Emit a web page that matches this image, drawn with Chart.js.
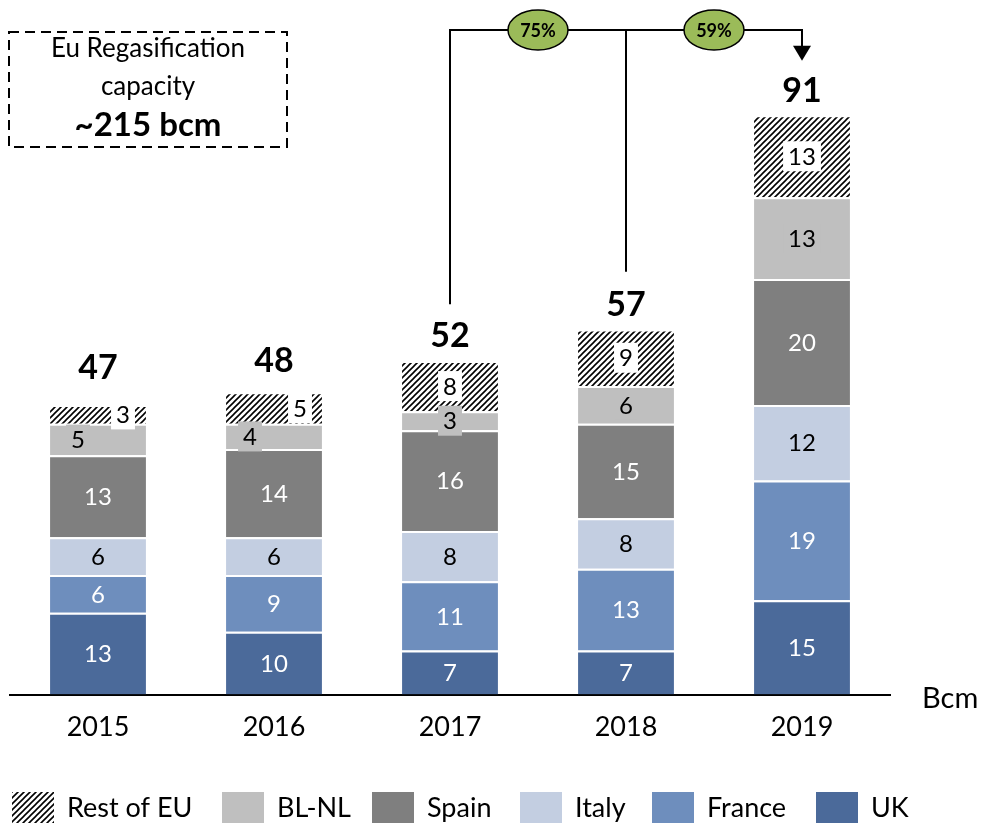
<!DOCTYPE html>
<html lang="en">
<head>
    <meta charset="UTF-8">
    <title>EU LNG imports by country</title>
    <script src="https://cdn.jsdelivr.net/npm/chart.js"></script>
    <style>
        body {
            margin: 0;
            background: #ffffff;
            overflow: hidden;
        }
        #chart {
            display: block;
        }
    </style>
</head>
<body>
    <canvas id="chart" width="987" height="826"></canvas>

    <script>
        // values (bcm)
        const years = ["2015", "2016", "2017", "2018", "2019"];
        const ukValues = [13, 10, 7, 7, 15];
        const franceValues = [6, 9, 11, 13, 19];
        const italyValues = [6, 6, 8, 8, 12];
        const spainValues = [13, 14, 16, 15, 20];
        const blnlValues = [5, 4, 3, 6, 13];
        const restValues = [3, 5, 8, 9, 13];
        const totals = [47, 48, 52, 57, 91];
        const growthLabels = ["75%", "59%"];
        const capacityLines = ["Eu Regasification", "capacity"];
        const capacityValue = "~215 bcm";
        const unitLabel = "Bcm";

        const FONT = "Lato, 'Open Sans', sans-serif";

        // diagonal hatch used for "Rest of EU"
        function makeHatch() {
            const c = document.createElement("canvas");
            c.width = 6;
            c.height = 6;
            const g = c.getContext("2d");
            g.fillStyle = "#ffffff";
            g.fillRect(0, 0, 6, 6);
            g.strokeStyle = "#000000";
            g.lineWidth = 1.6;
            g.beginPath();
            g.moveTo(0, 6); g.lineTo(6, 0);
            g.moveTo(-1, 1); g.lineTo(1, -1);
            g.moveTo(5, 7); g.lineTo(7, 5);
            g.stroke();
            return g.createPattern(c, "repeat");
        }
        const hatch = makeHatch();

        // small segments get their label nudged sideways (dataset index -> px per bar)
        const labelShift = { 4: [-20, -24, 0, 0, 0], 5: [25, 26, 0, 0, 0] };
        // legend swatch left edges, drawn right to left through the datasets
        const legendX = [12, 222, 372, 520, 652, 816];

        function series(label, data, color, textColor, boxColor) {
            return {
                label: label,
                data: data,
                backgroundColor: color,
                borderColor: "#ffffff",
                borderWidth: { top: 2, bottom: 0, left: 0, right: 0 },
                borderSkipped: "start",
                textColor: textColor,
                boxColor: boxColor,
                barPercentage: 0.545,
                categoryPercentage: 1
            };
        }

        const segmentLabels = {
            id: "segmentLabels",
            afterDatasetsDraw(chart) {
                const ctx = chart.ctx;
                ctx.save();
                ctx.font = "24px " + FONT;
                ctx.textAlign = "center";
                ctx.textBaseline = "middle";
                chart.data.datasets.forEach((ds, i) => {
                    const meta = chart.getDatasetMeta(i);
                    meta.data.forEach((bar, j) => {
                        const txt = String(ds.data[j]);
                        const x = bar.x + (labelShift[i] ? labelShift[i][j] : 0);
                        const y = (bar.y + bar.base) / 2;
                        if (ds.boxColor) {
                            const w = ctx.measureText(txt).width + 10;
                            ctx.fillStyle = ds.boxColor;
                            ctx.fillRect(x - w / 2, y - 15, w, 30);
                        }
                        ctx.fillStyle = ds.textColor;
                        ctx.fillText(txt, x, y + 1);
                    });
                });
                ctx.restore();
            }
        };

        const extras = {
            id: "extras",
            afterDraw(chart) {
                const ctx = chart.ctx;
                const yScale = chart.scales.y;
                const sets = chart.data.datasets;
                const top = chart.getDatasetMeta(sets.length - 1).data;
                ctx.save();

                // totals above each bar
                ctx.fillStyle = "#000";
                ctx.textAlign = "center";
                ctx.textBaseline = "middle";
                ctx.font = "bold 34px " + FONT;
                const labelY = totals.map(t => yScale.getPixelForValue(t) - 31);
                top.forEach((bar, j) => ctx.fillText(String(totals[j]), bar.x, labelY[j]));

                // growth connector 2017/2018 -> 2019
                const lineY = 30;
                const x17 = top[2].x, x18 = top[3].x, x19 = top[4].x;
                ctx.strokeStyle = "#000";
                ctx.lineWidth = 2;
                ctx.beginPath();
                ctx.moveTo(x17, labelY[2] - 32);
                ctx.lineTo(x17, lineY);
                ctx.lineTo(x19, lineY);
                ctx.lineTo(x19, labelY[4] - 44);
                ctx.moveTo(x18, labelY[3] - 33);
                ctx.lineTo(x18, lineY);
                ctx.stroke();
                const tip = labelY[4] - 30;
                ctx.beginPath();
                ctx.moveTo(x19 - 9, tip - 15);
                ctx.lineTo(x19 + 9, tip - 15);
                ctx.lineTo(x19, tip);
                ctx.closePath();
                ctx.fill();

                [(x17 + x18) / 2, (x18 + x19) / 2].forEach((cx, k) => {
                    ctx.beginPath();
                    ctx.ellipse(cx, lineY, 30, 20, 0, 0, Math.PI * 2);
                    ctx.fillStyle = "#9bbb59";
                    ctx.fill();
                    ctx.lineWidth = 1.5;
                    ctx.stroke();
                    ctx.fillStyle = "#000";
                    ctx.font = "bold 18px " + FONT;
                    ctx.fillText(growthLabels[k], cx, lineY + 1);
                });

                // capacity box
                ctx.setLineDash([10, 6]);
                ctx.lineWidth = 2;
                ctx.strokeRect(9, 32, 278, 115);
                ctx.setLineDash([]);
                ctx.font = "26px " + FONT;
                ctx.fillText(capacityLines[0], 148, 49);
                ctx.fillText(capacityLines[1], 148, 87);
                ctx.font = "bold 33px " + FONT;
                ctx.fillText(capacityValue, 148, 125);

                // unit next to axis
                ctx.font = "29px " + FONT;
                ctx.textAlign = "left";
                ctx.fillText(unitLabel, 922, 699);

                // legend, top series first
                ctx.font = "27px " + FONT;
                sets.slice().reverse().forEach((ds, k) => {
                    const bx = legendX[k];
                    ctx.fillStyle = ds.backgroundColor;
                    ctx.fillRect(bx, 792, 42, 31);
                    ctx.fillStyle = "#000";
                    ctx.fillText(ds.label, bx + 55, 808);
                });
                ctx.restore();
            }
        };

        new Chart(document.getElementById("chart"), {
            type: "bar",
            data: {
                labels: years,
                datasets: [
                    series("UK", ukValues, "#4b6a9a", "#ffffff"),
                    series("France", franceValues, "#6e8ebd", "#ffffff"),
                    series("Italy", italyValues, "#c3cee1", "#000000"),
                    series("Spain", spainValues, "#7f7f7f", "#ffffff"),
                    series("BL-NL", blnlValues, "#bfbfbf", "#000000", "#bfbfbf"),
                    series("Rest of EU", restValues, hatch, "#000000", "#ffffff")
                ]
            },
            options: {
                responsive: false,
                animation: false,
                layout: { padding: { left: 10, right: 97, top: 2, bottom: 67 } },
                scales: {
                    x: {
                        stacked: true,
                        grid: { display: false, drawTicks: false },
                        border: { display: true, color: "#000", width: 2 },
                        ticks: { color: "#000", font: { family: FONT, size: 27 }, padding: 16 }
                    },
                    y: {
                        stacked: true,
                        display: false,
                        min: 0,
                        max: 110
                    }
                },
                plugins: {
                    legend: { display: false },
                    tooltip: { enabled: false }
                }
            },
            plugins: [segmentLabels, extras]
        });
    </script>
</body>
</html>
